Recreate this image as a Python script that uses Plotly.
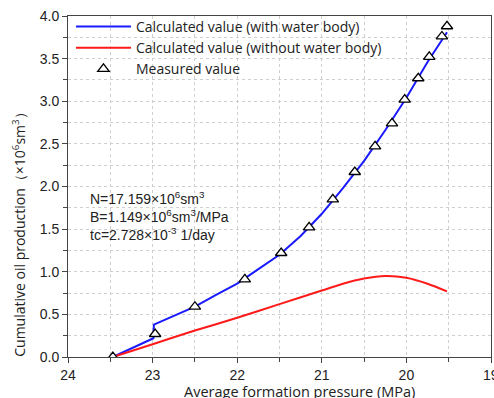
import plotly.graph_objects as go

# Measured values
meas_p = [23.47, 22.97, 22.50, 21.91, 21.48, 21.15, 20.87, 20.61, 20.37, 20.17, 20.02, 19.86, 19.73, 19.58, 19.52]
meas_q = [0.00, 0.27, 0.59, 0.91, 1.22, 1.52, 1.85, 2.17, 2.47, 2.74, 3.02, 3.27, 3.52, 3.76, 3.88]

# Calculated (with water body)
with_p = [23.47, 22.99, 22.985, 22.75, 22.5, 22.25, 22.0, 21.75, 21.5, 21.25, 21.0, 20.75, 20.5, 20.25, 20.0, 19.75, 19.52]
with_q = [0.00, 0.22, 0.38, 0.48, 0.59, 0.73, 0.86, 1.03, 1.20, 1.42, 1.68, 1.98, 2.30, 2.66, 3.04, 3.46, 3.81]

# Calculated (without water body)
without_p = [23.47, 23.0, 22.5, 22.0, 21.5, 21.0, 20.75, 20.5, 20.25, 20.0, 19.75, 19.52]
without_q = [0.00, 0.15, 0.31, 0.46, 0.62, 0.78, 0.86, 0.92, 0.95, 0.93, 0.86, 0.77]

x_ticks = [24, 23, 22, 21, 20, 19]
y_ticks = [0.0, 0.5, 1.0, 1.5, 2.0, 2.5, 3.0, 3.5, 4.0]

LEG_FONT = "Open Sans"
NUM_FONT = "Liberation Sans"
GRID = "#cfcfcf"

fig = go.Figure()
fig.add_trace(go.Scatter(x=with_p, y=with_q, mode="lines", name="Calculated value (with water body)",
                         line=dict(color="#1a1aff", width=2)))
fig.add_trace(go.Scatter(x=without_p, y=without_q, mode="lines", name="Calculated value (without water body)",
                         line=dict(color="#ff1a1a", width=2, shape="spline", smoothing=0.8)))
fig.add_trace(go.Scatter(x=meas_p, y=meas_q, mode="markers", name="Measured value",
                         marker=dict(symbol="triangle-up", size=10, color="white",
                                     line=dict(color="black", width=1.3))))

axis_common = dict(showline=True, linecolor="#444", linewidth=1, mirror=True,
                   ticks="outside", ticklen=5, tickcolor="#444", tickwidth=1,
                   showgrid=True, gridcolor=GRID, griddash="dot", gridwidth=1,
                   zeroline=False, tickfont=dict(family=NUM_FONT, size=14, color="#222"))

fig.update_xaxes(range=[24, 19], tickvals=x_ticks, ticktext=[str(v) for v in x_ticks],
                 minor=dict(dtick=0.5, ticks="outside", ticklen=4, tickcolor="#444",
                            showgrid=True, gridcolor=GRID, griddash="dot"),
                 **axis_common)
fig.update_yaxes(range=[0, 4.0], tickvals=y_ticks, ticktext=[f"{v:.1f}" for v in y_ticks],
                 minor=dict(dtick=0.25, ticks="outside", ticklen=4, tickcolor="#444",
                            showgrid=True, gridcolor=GRID, griddash="dot"),
                 **axis_common)

annotations = [
    dict(text="Cumulative oil production（×10<sup>6</sup>sm<sup>3</sup>）", textangle=-90,
         xref="paper", yref="paper", x=-0.116, y=0.37, xanchor="center", yanchor="middle",
         showarrow=False, font=dict(family=LEG_FONT, size=14, color="#222")),
    dict(text="Average formation pressure (MPa)", xref="paper", yref="paper",
         x=0.548, y=-0.102, xanchor="center", yanchor="middle",
         showarrow=False, font=dict(family=LEG_FONT, size=14.5, color="#222")),
    dict(text="N=17.159×10<sup>6</sup>sm<sup>3</sup><br>B=1.149×10<sup>6</sup>sm<sup>3</sup>/MPa<br>tc=2.728×10<sup>-3</sup> 1/day",
         xref="paper", yref="paper", x=0.047, y=0.499, xanchor="left", yanchor="top", align="left",
         showarrow=False, font=dict(family=NUM_FONT, size=14, color="#222")),
    # last x tick label (at the axis end, partly cut by the page edge as in the reference)
    dict(text=str(x_ticks[-1]), xref="x", yref="paper", x=x_ticks[-1], y=-0.052,
         xanchor="center", yanchor="middle", showarrow=False,
         font=dict(family=NUM_FONT, size=14, color="#222")),
]

fig.update_layout(
    width=494, height=398,
    margin=dict(l=68, r=3, t=16, b=41),
    paper_bgcolor="white", plot_bgcolor="white",
    showlegend=True,
    legend=dict(x=0.007, y=1.015, xanchor="left", yanchor="top", bgcolor="rgba(0,0,0,0)",
                font=dict(family=LEG_FONT, size=14, color="#222"), itemwidth=55,
                tracegroupgap=0),
    annotations=annotations,
)

fig.write_html("out.html")
